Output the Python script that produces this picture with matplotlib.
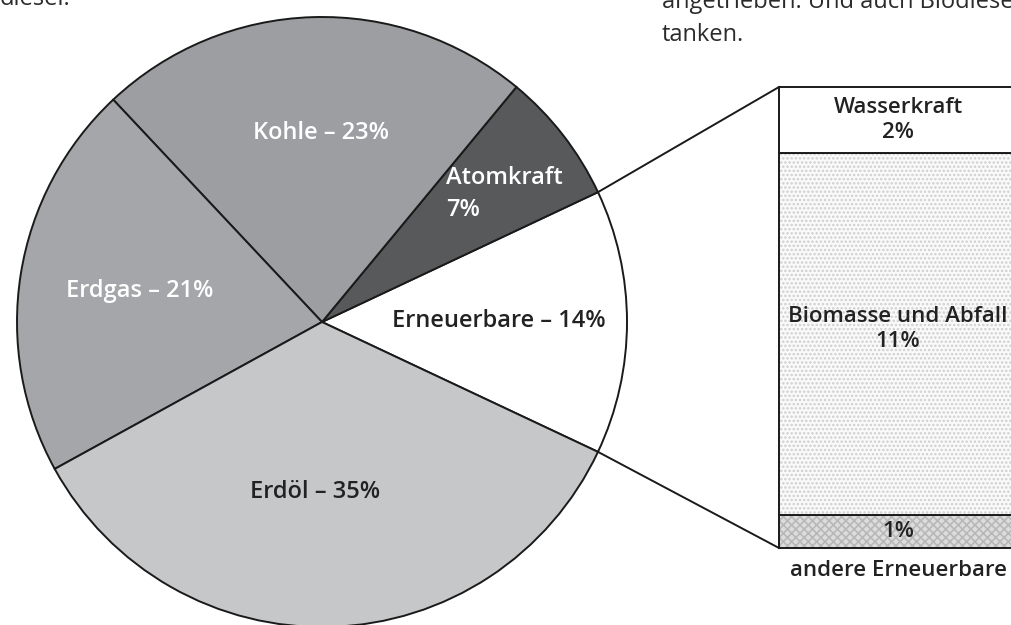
import numpy as np
import matplotlib.pyplot as plt
import matplotlib as mpl

mpl.rcParams['font.family'] = ['Open Sans', 'DejaVu Sans']
mpl.rcParams['hatch.linewidth'] = 1.2

# Anteile am Energieverbrauch (%)
sources = ['Erneuerbare', 'Atomkraft', 'Kohle', 'Erdgas', 'Erdöl']
shares = [14, 7, 23, 21, 35]
pie_colors = ['#ffffff', '#58595b', '#9d9ea2', '#a5a6a9', '#c6c7c9']

# Aufteilung der Erneuerbaren (%)
renew_parts = ['andere Erneuerbare', 'Biomasse und Abfall', 'Wasserkraft']
renew_shares = [1, 11, 2]

fig = plt.figure(figsize=(10.11, 6.25), dpi=100)
ax = fig.add_axes([0, 0, 1, 1])

cx, cy, r = 322, 303, 305
start = -shares[0] / 100 * 360 / 2
wedges, _ = ax.pie(shares, colors=pie_colors, startangle=start, counterclock=True,
                   center=(cx, cy), radius=r, frame=True,
                   wedgeprops=dict(edgecolor='#1a1a1a', linewidth=1.4))
ax.set_xlim(0, 1011)
ax.set_ylim(0, 625)
ax.set_aspect('equal')
ax.axis('off')

# Beschriftung im Kreis
fs = 17
lab = dict(fontsize=fs, fontweight='semibold', ha='center', va='center')
ax.text(321, 625 - 133, 'Kohle – 23%', color='white', **lab)
ax.text(140, 625 - 291, 'Erdgas – 21%', color='white', **lab)
ax.text(315, 625 - 492, 'Erdöl – 35%', color='#222222', **lab)
ax.text(499, 625 - 321, 'Erneuerbare – 14%', color='#222222', **lab)
ax.text(446, 625 - 194, 'Atomkraft\n7%', color='white', fontsize=fs,
        fontweight='semibold', ha='left', va='center', linespacing=1.45)

# Balken für Erneuerbare
bx, bw = 779, 250
btop, bbot = 625 - 87, 625 - 548
scale = (btop - bbot) / sum(renew_shares)
fills = ['#dcdcdc', '#fafafa', '#ffffff']
hatches = ['xxxx', '....', None]
bottom = bbot
bars = []
for name, v, fc, h in zip(renew_parts, renew_shares, fills, hatches):
    ax.bar(bx, v * scale, bottom=bottom, width=bw, align='edge',
           color=fc, edgecolor='#1a1a1a', linewidth=1.4, hatch=h, zorder=3)
    bars.append((bottom, v * scale))
    bottom += v * scale

ax.patches[-3]._hatch_color = mpl.colors.to_rgba('#b8b8b8')
ax.patches[-2]._hatch_color = mpl.colors.to_rgba('#cfcfcf')

bfs = 16
cx_text = 898
b0, h0 = bars[0]
b1, h1 = bars[1]
b2, h2 = bars[2]
ax.text(cx_text, b0 + h0 / 2, '1%', fontsize=bfs, fontweight='semibold',
        ha='center', va='center', color='#222222', zorder=5)
ax.text(cx_text, b1 + h1 / 2 + 5, 'Biomasse und Abfall\n11%', fontsize=bfs,
        fontweight='semibold', ha='center', va='center', color='#222222',
        linespacing=1.25, zorder=5)
ax.text(cx_text, b2 + h2 / 2, 'Wasserkraft\n2%', fontsize=bfs,
        fontweight='semibold', ha='center', va='center', color='#222222',
        linespacing=1.25, zorder=5)
ax.text(cx_text, bbot - 22, 'andere Erneuerbare', fontsize=bfs,
        fontweight='semibold', ha='center', va='center', color='#222222')

# Verbindungslinien vom Erneuerbare-Segment zum Balken
a1 = np.deg2rad(wedges[0].theta2)
a2 = np.deg2rad(wedges[0].theta1)
ax.plot([cx + r * np.cos(a1), bx], [cy + r * np.sin(a1), btop],
        color='#1a1a1a', lw=1.4, zorder=4)
ax.plot([cx + r * np.cos(a2), bx], [cy + r * np.sin(a2), bbot],
        color='#1a1a1a', lw=1.4, zorder=4)

# Fließtext der Seite (oben abgeschnitten)
txt = dict(fontsize=17, color='#2b2b2b', ha='left', va='baseline')
ax.text(0, 625 - 5, 'diesel.', **txt)
ax.text(662, 625 - 8, 'angetrieben. Und auch Biodiesel', **txt)
ax.text(662, 625 - 41, 'tanken.', **txt)

fig.savefig('out.png', dpi=100)
